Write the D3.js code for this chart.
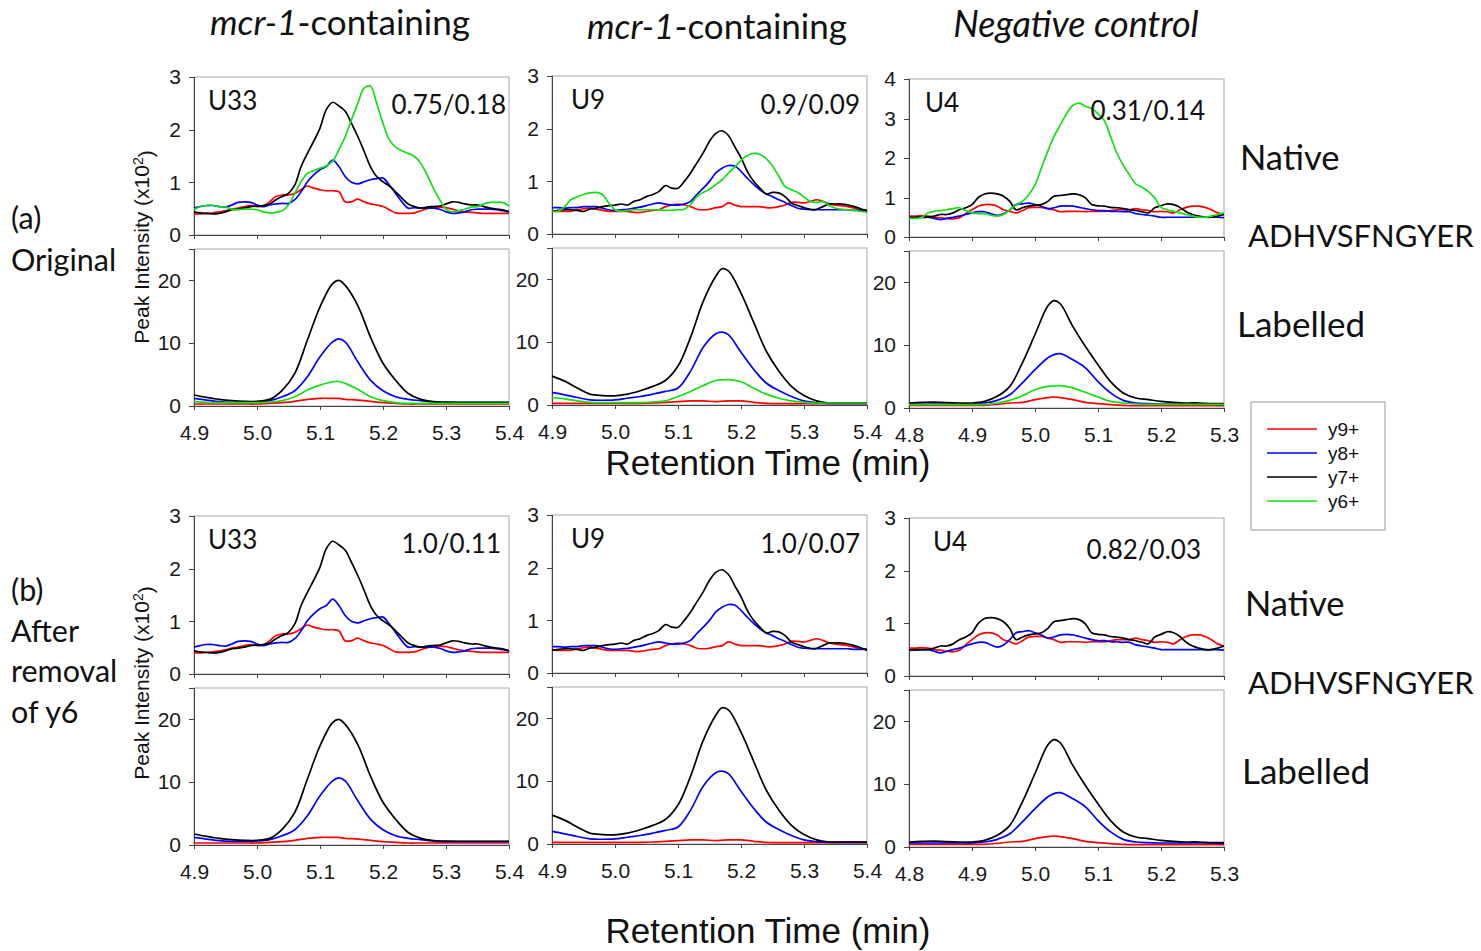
<!DOCTYPE html>
<html lang="en">
<head>
<meta charset="UTF-8">
<title>Peak intensity - ADHVSFNGYER</title>
<script src="https://cdn.jsdelivr.net/npm/d3@7"></script>
<style>
	body { margin: 0; background: #fff; }
	.axis path, .axis line { stroke: #444; shape-rendering: crispEdges; }
	.axis text { font-family: "Liberation Sans", Arial, sans-serif; font-size: 21px; fill: #1a1a1a; }
	.big { font-family: Lato, "Noto Sans", sans-serif; fill: #111; }
	.arial { font-family: "Liberation Sans", Arial, sans-serif; fill: #111; }
</style>
</head>
<body>
<div id="container"></div>
<script>
	// ---- series ----
	var seriesNames = ["y9+", "y8+", "y7+", "y6+"];
	var seriesColors = ["#ff0000", "#0000ff", "#000000", "#12e012"];

	// native traces, sampled every 0.01 min
	var natStart = [4.9, 4.9, 4.8];

	var nat_U33_y9 = [.40,.40,.41,.42,.44,.46,.49,.51,.54,.56, .54,.55,.63,.73,.76,.76,.79,.86,.93,.89,
		.86,.84,.84,.82,.63,.63,.68,.63,.59,.57, .54,.48,.42,.41,.41,.42,.46,.50,.52,.53, .52,.49,.46,.44,.43,.42,.41,.41,.41,.41,.41];
	var nat_U33_y8 = [.51,.54,.56,.56,.54,.53,.57,.62,.63,.62, .57,.54,.57,.59,.60,.60,.67,.82,1.01,1.14,
		1.24,1.30,1.42,1.30,1.11,1.00,.97,1.01,1.05,1.07, 1.08,.95,.79,.63,.51,.52,.51,.51,.51,.49, .44,.41,.42,.44,.48,.49,.49,.49,.48,.46,.44];
	var nat_U33_y7 = [.44,.42,.41,.40,.41,.44,.48,.49,.51,.54, .55,.56,.59,.67,.73,.79,.95,1.30,1.55,1.78,
		2.03,2.38,2.52,2.45,2.35,2.12,1.87,1.59,1.30,1.11, 1.01,.93,.82,.70,.59,.54,.51,.53,.54,.55, .59,.63,.62,.59,.57,.57,.54,.51,.49,.48,.44];
	var nat_U33_y6 = [.48,.54,.56,.56,.54,.53,.49,.48,.49,.49, .48,.44,.42,.43,.46,.57,.79,1.01,1.17,1.22,
		1.27,1.31,1.40,1.62,1.87,2.19,2.50,2.79,2.83,2.50, 2.12,1.81,1.67,1.60,1.55,1.49,1.36,1.14,.89,.67, .49,.44,.46,.49,.53,.54,.59,.62,.62,.62,.55];

	var nat_U9_y9 = [.45,.43,.43,.43,.46,.48,.49,.47,.45,.43, .43,.43,.43,.41,.41,.43,.45,.46,.52,.55,
		.57,.55,.52,.47,.46,.47,.50,.52,.59,.55, .52,.52,.52,.52,.50,.50,.52,.55,.60,.60, .59,.62,.65,.62,.57,.55,.54,.52,.49,.46,.46];
	var nat_U9_y8 = [.50,.50,.49,.50,.50,.52,.52,.52,.49,.46, .45,.46,.47,.49,.51,.54,.57,.59,.57,.55,
		.55,.57,.62,.75,.87,1.00,1.16,1.25,1.30,1.29, 1.19,1.06,.94,.84,.76,.71,.65,.60,.54,.49, .47,.46,.46,.46,.46,.46,.46,.46,.45,.45,.45];
	var nat_U9_y7 = [.43,.45,.46,.46,.45,.43,.47,.49,.52,.54, .55,.57,.55,.62,.65,.71,.75,.81,.92,.87,
		.87,1.00,1.16,1.35,1.54,1.76,1.91,1.96,1.87,1.66, 1.45,1.19,1.00,.87,.76,.79,.78,.71,.59,.54, .50,.47,.47,.52,.57,.57,.57,.55,.52,.48,.43];
	var nat_U9_y6 = [.43,.43,.52,.65,.71,.75,.78,.79,.75,.59, .46,.43,.45,.46,.46,.46,.46,.46,.45,.45,
		.46,.47,.56,.71,.79,.85,.94,1.03,1.16,1.27, 1.40,1.49,1.53,1.51,1.43,1.29,1.10,.90,.84,.79, .70,.62,.60,.62,.54,.49,.47,.46,.45,.43,.41];

	var nat_U4_y9 = [.53,.53,.54,.53,.50,.49,.47,.46,.49,.59, .69,.78,.82,.82,.78,.69,.65,.61,.67,.74,
		.75,.75,.72,.69,.64,.65,.65,.65,.64,.65, .65,.65,.67,.69,.69,.69,.72,.69,.67,.64, .65,.64,.61,.69,.75,.78,.78,.75,.69,.61,.57];
	var nat_U4_y8 = [.49,.49,.50,.50,.47,.44,.47,.50,.53,.57, .61,.64,.64,.59,.55,.59,.69,.82,.84,.86,
		.82,.78,.72,.74,.78,.79,.78,.75,.72,.69, .67,.67,.65,.65,.64,.64,.59,.57,.55,.53, .50,.50,.50,.50,.50,.50,.50,.50,.50,.50,.49];
	var nat_U4_y7 = [.49,.50,.50,.50,.53,.57,.57,.61,.69,.74, .82,1.00,1.09,1.11,1.09,1.03,.90,.69,.74,.78,
		.80,.82,.90,1.03,1.05,1.07,1.09,1.07,.99,.82, .79,.78,.75,.74,.72,.69,.67,.64,.61,.74, .79,.84,.82,.75,.64,.57,.53,.50,.50,.53,.57];
	var nat_U4_y6 = [.47,.47,.49,.61,.65,.67,.69,.72,.74,.67, .61,.59,.59,.55,.53,.57,.69,.82,.90,1.07,
		1.32,1.74,2.16,2.54,2.83,3.12,3.33,3.39,3.31,3.25, 3.12,2.95,2.54,2.12,1.82,1.57,1.34,1.26,1.15,.99, .75,.69,.65,.61,.57,.53,.50,.50,.53,.57,.61];

	// labelled traces
	var labTime_U33 = [4.90,4.92,4.94,4.96,4.98,5.00,5.02,5.04,5.06,5.08,5.10,5.12,5.13,5.14,5.16,5.18,5.20,5.22,5.24,5.26,5.28,5.30,5.32,5.34,5.36,5.38,5.40];
	var lab_U33_y9 = [.32,.32,.32,.32,.32,.32,.42,.53,.74,1.06,1.22,1.22,1.2,1.06,.95,.74,.53,.42,.32,.32,.32,.32,.32,.32,.32,.32,.32];
	var lab_U33_y8 = [1.2,.95,.69,.58,.58,.63,.85,1.48,2.43,4.66,7.83,10.2,10.7,10.2,7.04,4.13,2.43,1.48,1.06,.85,.63,.53,.53,.53,.53,.53,.53];
	var lab_U33_y7 = [1.75,1.38,1.06,.85,.74,.74,1.06,2.5,5.2,10.5,15.8,19.5,20.0,19.2,16.0,11.0,6.8,4.1,2.0,1.06,.69,.63,.6,.6,.6,.6,.6];
	var lab_U33_y6 = [.69,.58,.53,.53,.53,.53,.63,.85,1.48,2.54,3.33,3.86,3.9,3.6,2.65,1.48,.85,.53,.42,.42,.42,.42,.42,.42,.42,.42,.42];

	var labTime_U9 = [4.90,4.92,4.94,4.96,4.98,5.00,5.02,5.04,5.06,5.08,5.10,5.12,5.14,5.16,5.17,5.18,5.20,5.22,5.24,5.26,5.28,5.30,5.32,5.34,5.36,5.38,5.40];
	var lab_U9_y9 = [.27,.27,.27,.27,.27,.27,.27,.27,.32,.43,.54,.65,.65,.54,.6,.65,.65,.43,.27,.22,.22,.22,.22,.22,.22,.22,.22];
	var lab_U9_y8 = [2.0,1.62,1.19,.81,.76,.81,1.08,1.35,1.73,2.16,2.7,5.4,9.2,11.35,11.6,11.2,8.4,5.7,3.5,2.3,1.35,.65,.38,.27,.27,.27,.27];
	var lab_U9_y7 = [4.6,3.8,2.7,1.73,1.5,1.46,1.73,2.27,2.97,3.9,6.2,10.8,16.5,20.5,21.7,21.35,17.8,13.2,8.6,5.4,2.97,1.5,.65,.32,.32,.32,.3];
	var lab_U9_y6 = [1.19,.97,.65,.43,.38,.38,.38,.38,.49,.65,1.35,2.16,3.1,3.9,4.0,4.05,3.7,2.7,1.73,1.08,.65,.43,.32,.32,.32,.32,.32];

	var labTime_U4 = [4.80,4.82,4.84,4.86,4.88,4.90,4.92,4.94,4.96,4.98,5.00,5.02,5.03,5.04,5.06,5.08,5.10,5.12,5.14,5.16,5.18,5.20,5.22,5.24,5.26,5.28,5.30];
	var lab_U4_y9 = [.42,.42,.42,.42,.42,.42,.42,.58,.8,.9,1.33,1.64,1.75,1.64,1.33,.9,.69,.53,.42,.37,.37,.37,.37,.37,.37,.37,.37];
	var lab_U4_y8 = [.64,.64,.64,.64,.64,.64,.8,1.22,2.12,4.0,6.1,7.96,8.5,8.65,7.7,6.4,4.2,2.4,1.22,.8,.69,.64,.64,.64,.64,.64,.53];
	var lab_U4_y7 = [.8,.9,.95,.85,.8,.8,1.06,1.86,3.45,7.2,11.7,16.2,17.1,16.6,13.0,9.8,6.9,4.2,2.4,1.6,1.33,1.06,.9,.8,.8,.69,.69];
	var lab_U4_y6 = [.55,.55,.55,.55,.55,.55,.55,.8,1.22,1.96,2.9,3.45,3.5,3.55,3.2,2.5,1.75,1.06,.8,.64,.58,.58,.58,.58,.58,.58,.58];

	// labels
	var samples = ["U33", "U9", "U4"];
	var ratiosA = ["0.75/0.18", "0.9/0.09", "0.31/0.14"];
	var ratiosB = ["1.0/0.11", "1.0/0.07", "0.82/0.03"];
	var xDomains = [[4.9, 5.4], [4.9, 5.4], [4.8, 5.3]];
	var nativeMaxA = [3, 3, 4];
	var labelledMax = 25;

	var natTraces = [
		[nat_U33_y9, nat_U33_y8, nat_U33_y7, nat_U33_y6],
		[nat_U9_y9, nat_U9_y8, nat_U9_y7, nat_U9_y6],
		[nat_U4_y9, nat_U4_y8, nat_U4_y7, nat_U4_y6]
	];
	var labTimes = [labTime_U33, labTime_U9, labTime_U4];
	var labTraces = [
		[lab_U33_y9, lab_U33_y8, lab_U33_y7, lab_U33_y6],
		[lab_U9_y9, lab_U9_y8, lab_U9_y7, lab_U9_y6],
		[lab_U4_y9, lab_U4_y8, lab_U4_y7, lab_U4_y6]
	];

	// ---- layout ----
	var width = 1481, height = 951;
	var colX = [194, 552, 909], panelW = 315;
	var colDy = [0, -1, 2];
	var rowTop = [77, 249, 516, 688];
	var rowH = [158, 157, 158, 157];

	var svg = d3.select("#container").append("svg")
		.attr("width", width)
		.attr("height", height);

	function drawPanel(r, c, time, traces, nSeries, yMax, yTicks, showXLabels) {
		var g = svg.append("g")
			.attr("transform", "translate(" + colX[c] + "," + (rowTop[r] + colDy[c]) + ")");
		var h = rowH[r];
		var x = d3.scaleLinear().domain(xDomains[c]).range([0, panelW]);
		var y = d3.scaleLinear().domain([0, yMax]).range([h, 0]);

		g.append("rect")
			.attr("width", panelW).attr("height", h)
			.attr("fill", "none").attr("stroke", "#a8a8a8").attr("stroke-width", 1);

		var xt = d3.range(6).map(function(i){ return +(xDomains[c][0] + i * 0.1).toFixed(1); });
		g.append("g").attr("class", "axis")
			.attr("transform", "translate(0," + h + ")")
			.call(d3.axisBottom(x).tickValues(xt).tickSizeOuter(0).tickSize(4).tickPadding(15)
				.tickFormat(showXLabels ? d3.format(".1f") : function(){ return ""; }));
		g.append("g").attr("class", "axis")
			.call(d3.axisLeft(y).tickValues(yTicks).tickFormat(d3.format("d"))
				.tickSizeOuter(0).tickSize(5).tickPadding(8));

		var line = d3.line()
			.x(function(d){ return x(d[0]); })
			.y(function(d){ return y(d[1]); })
			.curve(d3.curveCatmullRom.alpha(0.5));

		for (var s = 0; s < nSeries; s++) {
			var pts = traces[s].map(function(v, i){ return [time[i], v]; });
			g.append("path")
				.attr("d", line(pts))
				.attr("fill", "none")
				.attr("stroke", seriesColors[s])
				.attr("stroke-width", 1.7)
				.attr("stroke-linejoin", "round");
		}
		return g;
	}

	// sample label + ratio placement (offsets from panel corners)
	var sampleDx = [[14, 19, 16], [14, 19, 24]];
	var ratioDx = [[-3, -7, -19], [-8, -7, -23]];
	var ratioDy = [28, 29, 32];

	for (var sec = 0; sec < 2; sec++) {
		var nS = sec === 0 ? 4 : 3;
		for (var c = 0; c < 3; c++) {
			var natTime = natTraces[c][0].map(function(v, i){ return +(natStart[c] + i * 0.01).toFixed(2); });
			var yMax = sec === 0 ? nativeMaxA[c] : 3;
			var gN = drawPanel(sec * 2, c, natTime, natTraces[c], nS, yMax, d3.range(yMax + 1), false);
			gN.append("text").attr("class", "big")
				.attr("x", sampleDx[sec][c]).attr("y", 24).attr("dy", "0.35em")
				.style("font-size", "26px").text(samples[c]);
			gN.append("text").attr("class", "big")
				.attr("x", panelW + ratioDx[sec][c]).attr("y", ratioDy[c]).attr("dy", "0.35em")
				.attr("text-anchor", "end")
				.style("font-size", "26px").text(sec === 0 ? ratiosA[c] : ratiosB[c]);

			drawPanel(sec * 2 + 1, c, labTimes[c], labTraces[c], nS, labelledMax, [0, 10, 20], true);
		}
	}

	// ---- column titles ----
	var titles = svg.append("g").attr("class", "big").style("font-size", "35px");
	var t1 = titles.append("text").attr("x", 340).attr("y", 23).attr("dy", "0.35em").attr("text-anchor", "middle");
	t1.append("tspan").style("font-style", "italic").text("mcr-1");
	t1.append("tspan").text("-containing");
	var t2 = titles.append("text").attr("x", 717).attr("y", 27).attr("dy", "0.35em").attr("text-anchor", "middle");
	t2.append("tspan").style("font-style", "italic").text("mcr-1");
	t2.append("tspan").text("-containing");
	titles.append("text").attr("x", 1076).attr("y", 24).attr("dy", "0.35em").attr("text-anchor", "middle")
		.style("font-style", "italic").style("font-size", "36px").text("Negative control");

	// ---- row labels ----
	var left = svg.append("g").attr("class", "big").style("font-size", "30.5px");
	[["(a)", 218], ["Original", 260], ["(b)", 590], ["After", 631], ["removal", 671], ["of y6", 712]].forEach(function(d){
		left.append("text").attr("x", 11).attr("y", d[1]).attr("dy", "0.35em").text(d[0]);
	});

	var right = svg.append("g").attr("class", "big");
	[["Native", 1240, 158, 34.5], ["ADHVSFNGYER", 1248, 236, 31], ["Labelled", 1237, 325, 35],
	 ["Native", 1245, 604, 34.5], ["ADHVSFNGYER", 1248, 683, 31], ["Labelled", 1242, 772, 35]].forEach(function(d){
		right.append("text").attr("x", d[1]).attr("y", d[2]).attr("dy", "0.35em")
			.style("font-size", d[3] + "px").text(d[0]);
	});

	// ---- axis titles ----
	[463, 931].forEach(function(yy){
		svg.append("text").attr("class", "arial")
			.attr("x", 768).attr("y", yy).attr("dy", "0.35em").attr("text-anchor", "middle")
			.style("font-size", "35px").text("Retention Time (min)");
	});
	[247, 683].forEach(function(yy){
		var t = svg.append("text").attr("class", "arial")
			.attr("transform", "translate(142," + yy + ") rotate(-90)")
			.attr("dy", "0.35em").attr("text-anchor", "middle")
			.style("font-size", "21px");
		t.append("tspan").text("Peak Intensity (x10");
		t.append("tspan").attr("dy", "-0.45em").style("font-size", "14px").text("2");
		t.append("tspan").attr("dy", "0.45em").text(")");
	});

	// ---- legend ----
	var leg = svg.append("g").attr("transform", "translate(1251,402)");
	leg.append("rect").attr("width", 134).attr("height", 128)
		.attr("fill", "#fff").attr("stroke", "#999");
	seriesNames.forEach(function(n, i){
		var yy = 27 + i * 24;
		leg.append("line").attr("x1", 16).attr("x2", 66).attr("y1", yy).attr("y2", yy)
			.attr("stroke", seriesColors[i]).attr("stroke-width", 1.7);
		leg.append("text").attr("class", "arial").attr("x", 77).attr("y", yy).attr("dy", "0.35em")
			.style("font-size", "19px").text(n);
	});
</script>
</body>
</html>
